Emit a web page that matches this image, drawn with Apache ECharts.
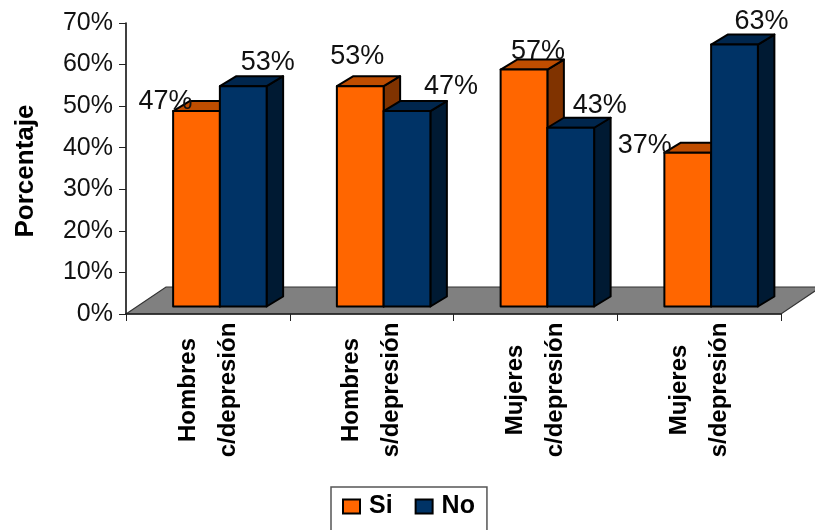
<!DOCTYPE html>
<html>
<head>
<meta charset="utf-8">
<script src="https://cdn.jsdelivr.net/npm/echarts@6/dist/echarts.min.js"></script>
<style>html,body{margin:0;padding:0;background:#fff}#c{width:815px;height:530px}</style>
</head>
<body>
<div id="c"></div>
<script>
var categories = ['Hombres\nc/depresión', 'Hombres\ns/depresión', 'Mujeres\nc/depresión', 'Mujeres\ns/depresión'];
var siValues = [47, 53, 57, 37];
var noValues = [53, 47, 43, 63];
var yTicks = [0, 10, 20, 30, 40, 50, 60, 70];

var FONT = '"Liberation Sans", Arial, sans-serif';
var depth = {x: 16.5, y: -10};
var plane = {x: 12, y: -7.5};
var floor = {x: 40, y: -27};
var labelShift = {
  Si: [[-31, -9.5], [-3, -30], [14, -18], [-43, -7]],
  No: [[24.5, -24], [44, -25], [29, -22], [27, -23]]
};

function pts(a) { return {points: a}; }

function barRenderer(name, side, front, topCol, sideCol) {
  return function (params, api) {
    var i = api.value(0), v = api.value(1);
    var base = api.coord([i, 0]), tip = api.coord([i, v]);
    var bw = api.size([1, 0])[0] * 0.2855;
    var cx = base[0] + plane.x;
    var x0 = side < 0 ? cx - bw : cx, x1 = x0 + bw;
    var yb = base[1] + plane.y, yt = tip[1] + plane.y;
    var st = {stroke: '#000', lineWidth: 2, lineJoin: 'round'};
    function poly(a, c) {
      return {type: 'polygon', shape: pts(a), style: Object.assign({fill: c}, st)};
    }
    var off = labelShift[name][i];
    return {type: 'group', children: [
      poly([[x1, yb], [x1 + depth.x, yb + depth.y], [x1 + depth.x, yt + depth.y], [x1, yt]], sideCol),
      poly([[x0, yt], [x0 + depth.x, yt + depth.y], [x1 + depth.x, yt + depth.y], [x1, yt]], topCol),
      poly([[x0, yb], [x1, yb], [x1, yt], [x0, yt]], front),
      {type: 'text', z2: 50, x: (x0 + x1) / 2 + off[0], y: yt + off[1], style: {
        text: v + '%', fill: '#111', font: '27px ' + FONT, align: 'center', verticalAlign: 'middle'
      }}
    ]};
  };
}

var chart = echarts.init(document.getElementById('c'), null, {renderer: 'canvas'});
chart.setOption({
  animation: false,
  backgroundColor: '#fff',
  grid: {left: 126, top: 23, right: 34, height: 291, containLabel: false, outerBoundsMode: 'none'},
  legend: {
    data: ['Si', 'No'], left: 331, top: 487, orient: 'horizontal',
    backgroundColor: '#fff', borderColor: '#555', borderWidth: 1.5,
    padding: [7, 12, 30, 11], itemWidth: 17, itemHeight: 14, itemGap: 22, icon: 'rect',
    itemStyle: {borderColor: '#000', borderWidth: 2},
    textStyle: {fontFamily: FONT, fontWeight: 'bold', fontSize: 25, color: '#000', padding: [0, 0, 0, 4]}
  },
  xAxis: {
    type: 'category', data: categories, z: 6,
    axisLine: {lineStyle: {color: '#222', width: 1.5}},
    axisTick: {show: true, alignWithLabel: false, length: 7, lineStyle: {color: '#222', width: 1}},
    axisLabel: {
      interval: 0, rotate: 90, align: 'center', verticalAlign: 'middle', margin: 76,
      fontFamily: FONT, fontWeight: 'bold', fontSize: 24, lineHeight: 40, color: '#000'
    }
  },
  yAxis: {
    type: 'value', min: yTicks[0], max: yTicks[yTicks.length - 1], interval: yTicks[1] - yTicks[0], z: 6,
    name: 'Porcentaje', nameLocation: 'middle', nameGap: 87, nameRotate: 90,
    nameTextStyle: {fontFamily: FONT, fontWeight: 'bold', fontSize: 26, color: '#000', padding: [0, 0, 0, -5]},
    splitLine: {show: false},
    axisLine: {show: true, lineStyle: {color: '#000', width: 1.5}},
    axisTick: {show: true, length: 7, lineStyle: {color: '#222', width: 1}},
    axisLabel: {fontFamily: FONT, fontSize: 25, color: '#111', margin: 13, formatter: '{value}%'}
  },
  series: [
    {
      type: 'custom', name: 'Suelo', coordinateSystem: 'cartesian2d', z: 1, silent: true,
      data: [[0, 0]], encode: {x: 0, y: 1},
      renderItem: function (params, api) {
        var g = params.coordSys, yb = g.y + g.height, xl = g.x, xr = g.x + g.width;
        return {type: 'polygon', shape: pts([[xl, yb], [xl + floor.x, yb + floor.y], [xr + floor.x, yb + floor.y], [xr, yb]]),
          style: {fill: '#808080', stroke: '#333', lineWidth: 1.2}};
      }
    },
    {
      type: 'custom', name: 'Si', coordinateSystem: 'cartesian2d', z: 3,
      itemStyle: {color: '#FF6600'},
      data: siValues.map(function (v, i) { return [i, v]; }), encode: {x: 0, y: 1},
      renderItem: barRenderer('Si', -1, '#FF6600', '#BF4D00', '#803300')
    },
    {
      type: 'custom', name: 'No', coordinateSystem: 'cartesian2d', z: 4,
      itemStyle: {color: '#003366'},
      data: noValues.map(function (v, i) { return [i, v]; }), encode: {x: 0, y: 1},
      renderItem: barRenderer('No', 1, '#003366', '#00264D', '#001A33')
    }
  ]
});
</script>
</body>
</html>
